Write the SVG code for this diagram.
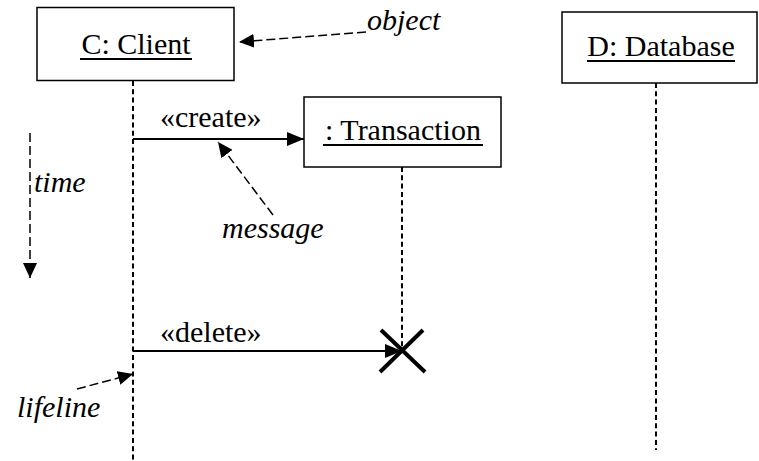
<svg xmlns="http://www.w3.org/2000/svg" width="759" height="461" viewBox="0 0 759 461">
<style>
.box{fill:#fff;stroke:#000;stroke-width:1.5}
.name{font-family:"Liberation Serif","Times New Roman",serif;font-size:30px;text-anchor:middle;fill:#000}
.ul{stroke:#000;stroke-width:2}
.life{stroke:#000;stroke-width:2;stroke-dasharray:5 3.3;fill:none}
.msg{stroke:#000;stroke-width:2;fill:none}
.note{stroke:#000;stroke-width:1.5;stroke-dasharray:9 4;fill:none}
.lbl{font-family:"Liberation Serif","Times New Roman",serif;font-size:30px;fill:#000}
.it{font-style:italic}
</style>
<defs>
<marker id="ah" markerUnits="userSpaceOnUse" markerWidth="18" markerHeight="14" refX="17" refY="7" orient="auto">
<path d="M0,0 L17,7 L0,14 Z" fill="#000"/>
</marker>
<marker id="ah2" markerUnits="userSpaceOnUse" markerWidth="16" markerHeight="14" refX="15" refY="7" orient="auto">
<path d="M0,0 L15,7 L0,14 Z" fill="#000"/>
</marker>
</defs>

<g id="client">
<rect class="box" x="37" y="7.5" width="197" height="73"/>
<text class="name" x="136" y="54">C: Client</text>
<line class="ul" x1="80" y1="59" x2="192" y2="59"/>
</g>

<g id="database">
<rect class="box" x="562" y="12" width="195" height="71"/>
<text class="name" x="661" y="56">D: Database</text>
<line class="ul" x1="587" y1="61" x2="735" y2="61"/>
</g>

<g id="transaction">
<rect class="box" x="304" y="97" width="197" height="70"/>
<text class="name" x="403" y="140">: Transaction</text>
<line class="ul" x1="323" y1="145" x2="483" y2="145"/>
</g>

<g id="lifelines">
<line class="life" x1="133" y1="81" x2="133" y2="461"/>
<line class="life" x1="402" y1="167" x2="402" y2="351"/>
<line class="life" x1="656" y1="83" x2="656" y2="450"/>
</g>

<g id="destroy">
<line x1="381" y1="330" x2="425" y2="372" stroke="#000" stroke-width="4"/>
<line x1="423" y1="330" x2="380" y2="372" stroke="#000" stroke-width="4"/>
</g>

<g id="connectors">
<line class="msg" x1="133" y1="139" x2="304" y2="139" marker-end="url(#ah)"/>
<line class="msg" x1="133" y1="351" x2="402" y2="351" marker-end="url(#ah)"/>
<line class="note" x1="366" y1="32" x2="239" y2="42" marker-end="url(#ah2)"/>
<line class="note" x1="273" y1="215" x2="218" y2="142" marker-end="url(#ah2)"/>
<line class="note" x1="30" y1="133" x2="30" y2="278" marker-end="url(#ah2)"/>
<line class="note" x1="77" y1="389" x2="133" y2="374" marker-end="url(#ah2)"/>
</g>

<g id="labels">
<text class="lbl" x="160" y="127">«create»</text>
<text class="lbl" x="160" y="342">«delete»</text>
<text class="lbl it" x="367" y="30">object</text>
<text class="lbl it" x="34" y="192">time</text>
<text class="lbl it" x="222" y="238">message</text>
<text class="lbl it" x="17" y="417">lifeline</text>
</g>
</svg>
